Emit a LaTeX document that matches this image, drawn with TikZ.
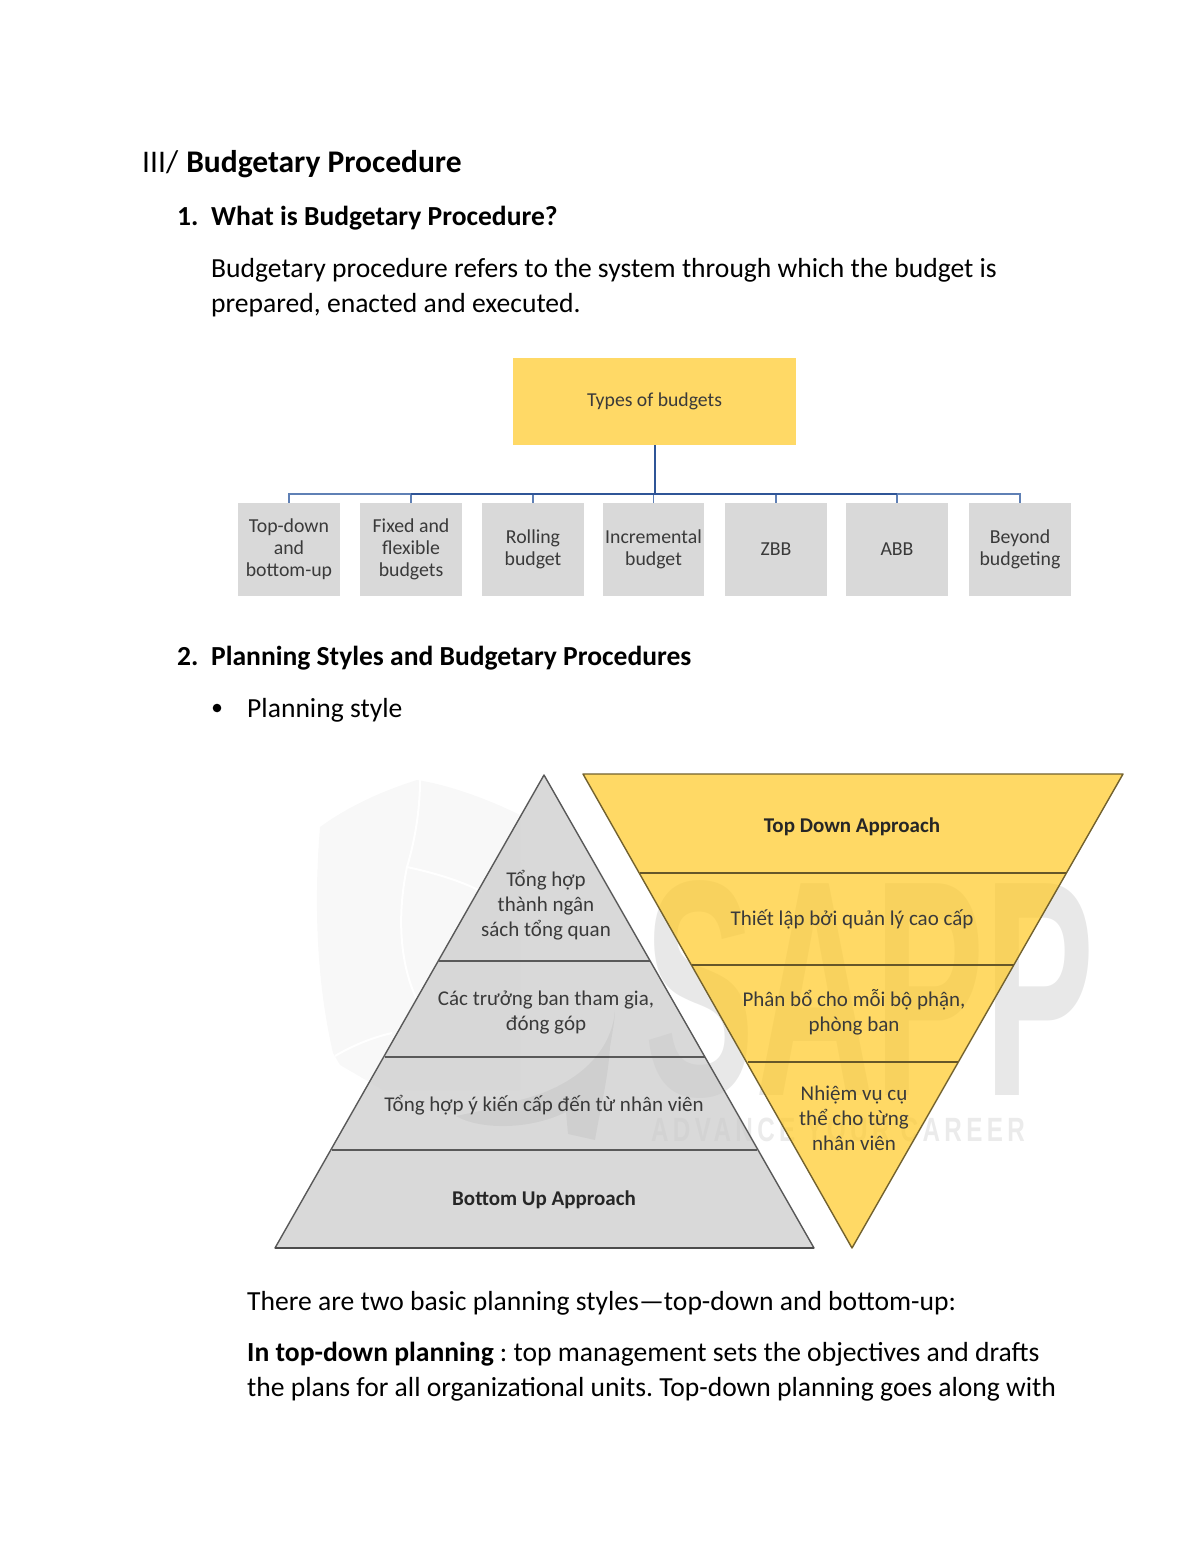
\documentclass[tikz,border=0pt]{standalone}
\usepackage{fontspec}
\setmainfont{Carlito}
\newfontfamily\wmfont{Liberation Sans}
\usetikzlibrary{calc}
\definecolor{boxgray}{HTML}{D9D9D9}
\definecolor{boxyellow}{HTML}{FFD966}
\definecolor{trigray}{HTML}{C9C9C9}
\definecolor{triyellow}{HTML}{FFC924}
\definecolor{linkblue}{HTML}{5F80B5}
\definecolor{linkdark}{HTML}{2F5597}
\definecolor{inkgray}{HTML}{3A3A3A}
\tikzset{
  body/.style={anchor=base west,inner sep=0pt,font=\fontsize{27.6}{32}\selectfont,text=black},
  bodybold/.style={body,font=\fontsize{27.55}{32}\selectfont\bfseries},
  rootbox/.style={fill=boxyellow,minimum width=283pt,minimum height=87pt,inner sep=0pt,font=\fontsize{19.7}{23}\selectfont,text=inkgray},
  leafbox/.style={fill=boxgray,minimum height=93pt,inner sep=0pt,align=center,font=\fontsize{19.8}{21.8}\selectfont,text=inkgray},
  link/.style={draw=linkblue,line width=1.5pt},
  linkmain/.style={draw=linkdark,line width=2pt},
  band/.style={inner sep=0pt,align=center,font=\fontsize{21}{25}\selectfont,text=inkgray},
  bandbold/.style={band,font=\fontsize{21}{25}\selectfont\bfseries,text=black!85},
  graytri/.style={fill=trigray,fill opacity=.7,draw=black!65,line width=1.4pt,line join=round},
  yellowtri/.style={fill=triyellow,fill opacity=.7,draw=black!55!boxyellow,line width=1.4pt,line join=round},
  grayrule/.style={line width=1.8pt,draw=black!65},
  yellowrule/.style={line width=1.8pt,draw=black!60!boxyellow},
  mark glyph/.style={inner sep=0pt,text=black,opacity=.09}
}
\begin{document}
\frenchspacing
\begin{tikzpicture}[x=1pt,y=-1pt]
\useasboundingbox[fill=white] (0,0) rectangle (1200,1553);

% page text
\node[body,font=\fontsize{31.5}{36}\selectfont] (h0) at (142,172) {III/\hspace{1pt} \textbf{Budgetary Procedure}};
\node[bodybold] (n1) at (177,225) {1.};
\node[bodybold] (h1) at (211,225) {What is Budgetary Procedure?};
\node[body] (p1) at (211,277) {Budgetary procedure refers to the system through which the budget is};
\node[body] (p2) at (211,312) {prepared, enacted and executed.};
\node[bodybold] (n2) at (177,665) {2.};
\node[bodybold] (h2) at (211,665) {Planning Styles and Budgetary Procedures};
\fill (217,708) circle (4.3pt);
\node[body] (b1) at (247,717) {Planning style};
\node[body] (p3) at (247,1310) {There are two basic planning styles---top-down and bottom-up:};
\node[body] (p4) at (247,1361) {\textbf{In top-down planning} : top management sets the objectives and drafts};
\node[body] (p5) at (247,1396) {the plans for all organizational units. Top-down planning goes along with};

% org chart
\node[rootbox] (root) at (654.5,401.5) {Types of budgets};
\node[leafbox,minimum width=102pt] (l1) at (289,549.5) {Top-down\\and\\bottom-up};
\node[leafbox,minimum width=102pt] (l2) at (411,549.5) {Fixed and\\flexible\\budgets};
\node[leafbox,minimum width=102pt] (l3) at (533,549.5) {Rolling\\budget};
\node[leafbox,minimum width=101pt] (l4) at (653.5,549.5) {Incremental\\budget};
\node[leafbox,minimum width=102pt] (l5) at (776,549.5) {\raisebox{1pt}{ZBB}};
\node[leafbox,minimum width=102pt] (l6) at (897,549.5) {\raisebox{1pt}{ABB}};
\node[leafbox,minimum width=102pt] (l7) at (1020,549.5) {Beyond\\budgeting};
\coordinate (bus) at (654.5,494);
\foreach \n in {l1,l2,l3,l4,l5,l6,l7}
  \draw[link] (bus) -| (\n.north);
\draw[linkmain] (root.south) -- (bus);
\draw[linkmain,line width=1.8pt] (l2.north |- bus) -- (l6.north |- bus);

% watermark, behind the translucent shapes
\fill[black,opacity=.028] (417,780) .. controls (385,790) and (350,805) .. (320,827)
  .. controls (314,900) and (316,980) .. (333,1053) -- (340,1065) -- (383,1090) -- (520,1090) -- (520,815) .. controls (490,800) and (450,785) .. cycle;
\draw[white,line width=2pt] (420,780) .. controls (420,810) and (415,840) .. (407,867)
  .. controls (430,872) and (460,880) .. (482,892);
\draw[white,line width=2pt] (407,867) .. controls (398,910) and (398,960) .. (417,1000);
\draw[white,line width=2pt] (335,1056) .. controls (350,1047) and (370,1038) .. (392,1033);
\node[mark glyph] (wm1) at (870,990) {\scalebox{.87}[1.62]{\wmfont\bfseries\fontsize{190}{190}\selectfont SAPP}};
\node[mark glyph,opacity=.08] (wm2) at (838,1130) {\scalebox{.735}[1.02]{\wmfont\bfseries\fontsize{33}{33}\selectfont\addfontfeature{LetterSpace=18}ADVANCE YOUR CAREER}};

% left pyramid
\coordinate (gA) at (544,775);
\coordinate (gL) at (275,1248);
\coordinate (gR) at (814,1248);
\draw[graytri] (gA) -- (gL) -- (gR) -- cycle;
\coordinate (g1l) at (439,961); \coordinate (g1r) at (650,961);
\coordinate (g2l) at (385,1057); \coordinate (g2r) at (705,1057);
\coordinate (g3l) at (332,1150); \coordinate (g3r) at (757,1150);
\draw[grayrule] (g1l) -- (g1r);
\draw[grayrule] (g2l) -- (g2r);
\draw[grayrule] (g3l) -- (g3r);
\draw[line width=2.6pt,draw=black!70] (gL) -- (gR);

% right inverted pyramid
\coordinate (yL) at (583,774);
\coordinate (yR) at (1123,774);
\coordinate (yB) at (852,1248);
\draw[yellowtri] (yL) -- (yR) -- (yB) -- cycle;
\coordinate (y1l) at (640,873); \coordinate (y1r) at (1066,873);
\coordinate (y2l) at (692,965); \coordinate (y2r) at (1014,965);
\coordinate (y3l) at (748,1062); \coordinate (y3r) at (958,1062);
\draw[yellowrule] (y1l) -- (y1r);
\draw[yellowrule] (y2l) -- (y2r);
\draw[yellowrule] (y3l) -- (y3r);

% swoosh of the watermark
\fill[black,opacity=.045] (615,1010) .. controls (612,1050) and (580,1085) .. (520,1100)
  .. controls (495,1108) and (475,1112) .. (456,1116)
  .. controls (480,1130) and (530,1130) .. (566,1112) -- (568,1134) -- (595,1140)
  .. controls (600,1110) and (608,1080) .. (610,1047)
  .. controls (612,1035) and (615,1020) .. (615,1010) -- cycle;

% labels
\node[band] (t1) at (546,905) {Tổng hợp\\thành ngân\\sách tổng quan};
\node[band] (t2) at (546,1012.5) {Các trưởng ban tham gia,\\đóng góp};
\node[band] (t3) at (544,1105) {Tổng hợp ý kiến cấp đến từ nhân viên};
\node[bandbold] (t4) at (544,1200) {Bottom Up Approach};
\node[bandbold] (r1) at (852,826.5) {Top Down Approach};
\node[band] (r2) at (852,919) {Thiết lập bởi quản lý cao cấp};
\node[band] (r3) at (854,1012.5) {Phân bổ cho mỗi bộ phận,\\phòng ban};
\node[band] (r4) at (854,1118.5) {Nhiệm vụ cụ\\thể cho từng\\nhân viên};
\end{tikzpicture}
\end{document}
